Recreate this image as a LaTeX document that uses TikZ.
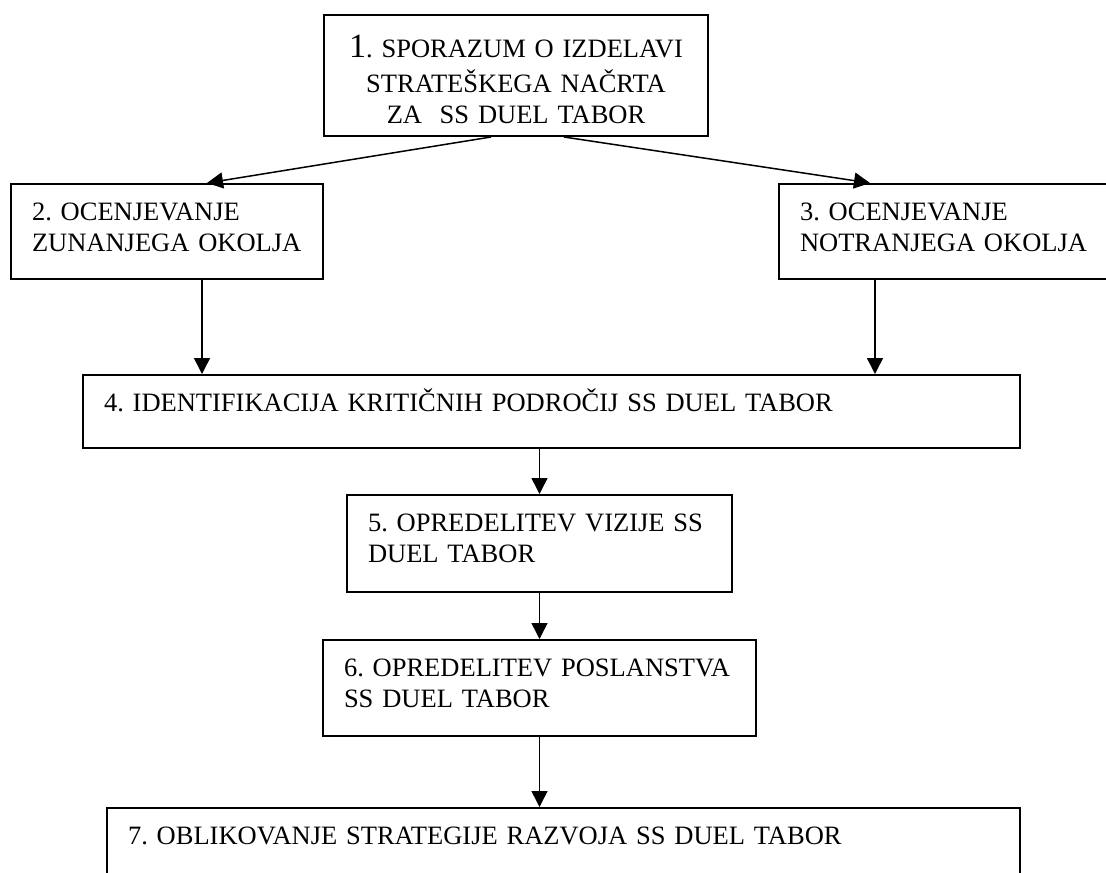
\documentclass[tikz,border=0pt]{standalone}
\usepackage{fontspec}
\setmainfont{Liberation Serif}
\usetikzlibrary{arrows.meta}
\frenchspacing

\begin{document}
\begin{tikzpicture}[x=1pt, y=-1pt,
  stepbox/.style={draw, line width=2pt, anchor=north west, align=left,
    inner xsep=21pt, inner ysep=0pt, text height=36pt,
    font=\fontsize{26.5}{31}\selectfont},
  flow/.style={-{Triangle[length=16pt, width=16pt]}, line width=1.5pt}]
\useasboundingbox (0,0) rectangle (1106,873);
% Steps (box 3 and box 7 run past the page edge)
\node[stepbox, align=center, text width=342pt, text height=42pt, text depth=79pt]
  (agree) at (323,14)
  {{\fontsize{34}{34}\selectfont 1}. SPORAZUM O IZDELAVI\\[4pt]
   STRATEŠKEGA NAČRTA\\ZA\ \ SS DUEL TABOR};
\node[stepbox, text width=270pt, text depth=59pt] (outer) at (10,183)
  {2. OCENJEVANJE\\ZUNANJEGA OKOLJA};
\node[stepbox, text width=290pt, text depth=59pt] (inner) at (778,183)
  {3. OCENJEVANJE\\NOTRANJEGA OKOLJA};
\node[stepbox, text width=895pt, text depth=37pt] (critical) at (82,374)
  {4. IDENTIFIKACIJA KRITIČNIH PODROČIJ SS DUEL TABOR};
\node[stepbox, text width=343pt, text depth=61pt] (vision) at (346,494)
  {5. OPREDELITEV VIZIJE SS\\DUEL TABOR};
\node[stepbox, text width=391pt, text depth=60pt] (mission) at (322,639)
  {6. OPREDELITEV POSLANSTVA\\SS DUEL TABOR};
\node[stepbox, text width=871pt, text depth=64pt] (strategy) at (106,807)
  {7. OBLIKOVANJE STRATEGIJE RAZVOJA SS DUEL TABOR};
% Connectors
\draw[flow] ([xshift=-25pt]agree.south) -- ([xshift=197pt]outer.north west);
\draw[flow] ([xshift=48pt]agree.south) -- ([xshift=92pt]inner.north west);
\draw[flow] ([xshift=192pt]outer.south west) coordinate (o2) -- (o2 |- critical.north);
\draw[flow] ([xshift=97pt]inner.south west) coordinate (i2) -- (i2 |- critical.north);
\draw[flow] (vision.north |- critical.south) -- (vision.north);
\draw[flow] (vision.south) -- (mission.north);
\draw[flow] (mission.south) -- (mission.south |- strategy.north);
\end{tikzpicture}
\end{document}
